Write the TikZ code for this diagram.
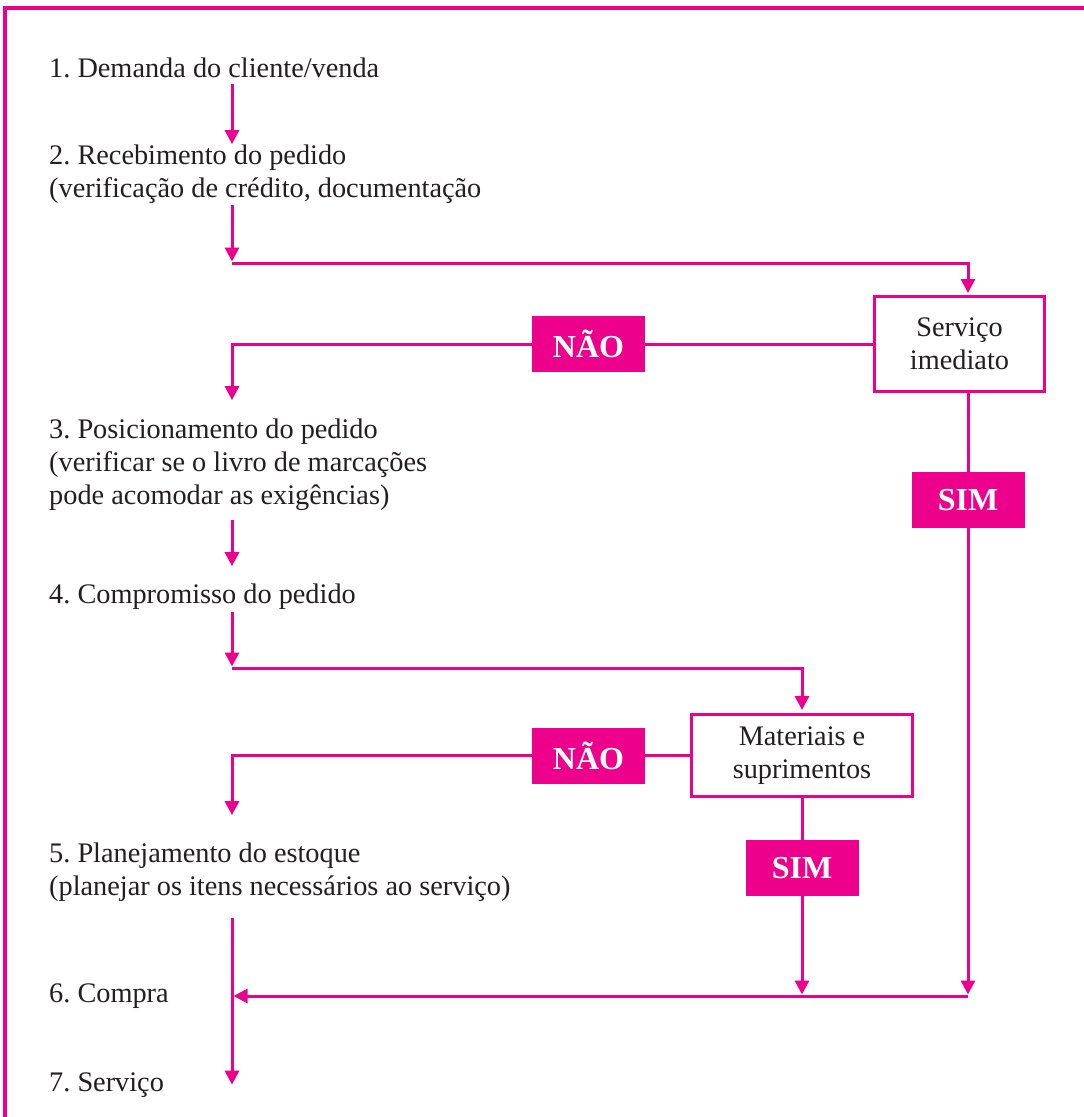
\documentclass[tikz,border=0pt]{standalone}
\usepackage{fontspec}
\setmainfont{Liberation Serif}
\usetikzlibrary{arrows.meta,calc}
\definecolor{mag}{RGB}{236,0,140}
\definecolor{ink}{RGB}{35,31,32}
\frenchspacing
\begin{document}
\begin{tikzpicture}[x=1pt,y=-1pt,
  txt/.style={anchor=base west,inner sep=0pt,align=left,text=ink,font=\fontsize{28.3}{33}\selectfont},
  boxnode/.style={draw=mag,line width=3pt,fill=white,align=center,text=ink,font=\fontsize{28.3}{33}\selectfont,inner sep=0pt},
  tag/.style={fill=mag,text=white,font=\bfseries\fontsize{32}{36}\selectfont,minimum width=113pt,minimum height=56pt,inner sep=0pt},
  wire/.style={draw=mag,line width=3pt},
  arr/.style={wire,-{Triangle[length=14pt,width=14pt]}},
]
\useasboundingbox (0,0) rectangle (1084,1117);
\fill[white] (0,0) rectangle (1084,1117);
% outer frame (runs off the page at right and bottom)
\begin{scope}
  \clip (0,0) rectangle (1084,1117);
  \draw[draw=mag,line width=3.5pt] (5,1140) -- (5,8) -- (1100,8);
\end{scope}

% guide columns
\coordinate (spine) at (232,0);
\coordinate (col1) at (968,0);

% steps and decisions (multi-line texts are placed by their last baseline)
\node[txt] (t1) at (49,77) {1. Demanda do cliente/venda};
\node[txt] (t2) at (49,197) {2. Recebimento do pedido\\(verificação de crédito, documentação};
\node[boxnode,minimum width=170pt,minimum height=95pt] (serv) at (959.5,344) {Serviço\\imediato};
\node[tag] (no1) at (588.5,344) {NÃO};
\node[txt] (t3) at (49,504) {3. Posicionamento do pedido\\(verificar se o livro de marcações\\pode acomodar as exigências)};
\node[tag] (sim1) at (968,500) {SIM};
\node[txt] (t4) at (49,603) {4. Compromisso do pedido};
\node[boxnode,minimum width=221pt,minimum height=82pt] (mat) at (802,755.5) {Materiais e\\suprimentos};
\node[tag] (no2) at (588.5,755.5) {NÃO};
\node[txt] (t5) at (49,895) {5. Planejamento do estoque\\(planejar os itens necessários ao serviço)};
\node[tag] (sim2) at (802,868) {SIM};
\node[txt,anchor=west] (t6) at (49,996) {6. Compra};
\node[txt] (t7) at (49,1091) {7. Serviço};

% junction points
\coordinate (j1) at (232,263);
\coordinate (j2) at (232,668);
\coordinate (j3) at (col1 |- t6.east);

% connectors
\draw[arr,shorten <=6pt] (t1.south -| spine) -- (t2.north -| spine);
\draw[arr,shorten <=2pt,shorten >=1.5pt] (t2.south -| spine) -- (j1);
\draw[arr,shorten >=2pt] (j1) -| (serv.north -| col1);
\draw[wire] (serv.west) -- (no1.east);
\draw[arr,shorten >=18pt] (no1.west) -| (t3.north -| spine);
\draw[wire] (serv.south -| col1) -- (sim1.north);
\draw[arr,shorten <=10pt,shorten >=17pt] (t3.south -| spine) -- (t4.north -| spine);
\draw[arr,shorten <=3pt,shorten >=1.5pt] (t4.south -| spine) -- (j2);
\draw[arr,shorten >=3pt] (j2) -| (mat.north);
\draw[wire] (mat.west) -- (no2.east);
\draw[arr,shorten >=27pt] (no2.west) -| (t5.north -| spine);
\draw[wire] (mat.south) -- (sim2.north);
\draw[arr,shorten >=1.5pt] (sim1.south) -- (j3);
\draw[arr,shorten >=1.5pt] (sim2.south) -- (sim2.south |- j3);
\draw[arr,shorten >=1.5pt] (j3) -- (t6.east -| spine);
\draw[arr,shorten <=17pt] (t5.south -| spine) -- (t7.east -| spine);
\end{tikzpicture}
\end{document}
